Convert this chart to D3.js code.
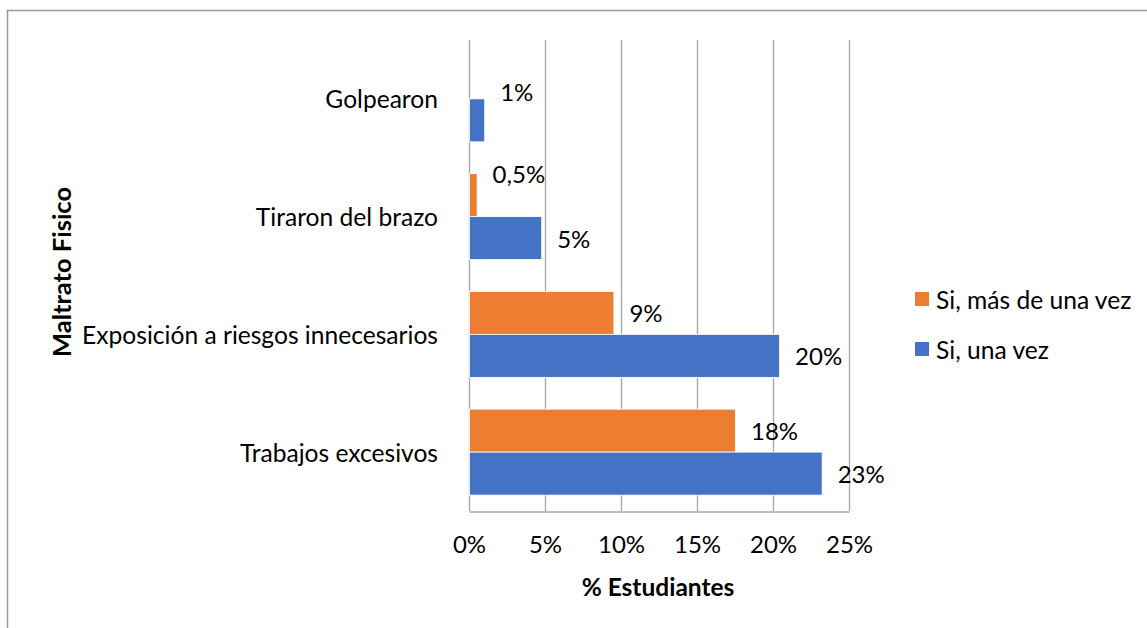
<!DOCTYPE html>
<html>
<head>
<meta charset="utf-8">
<script src="https://cdn.jsdelivr.net/npm/d3@7"></script>
<style>
   body { margin: 0; background: #fff; }
   svg text { font-family: Lato, "Open Sans", sans-serif; fill: #000; }
</style>
</head>
<body>
<div id="chart"></div>
<script>
// Data
const categories = ["Golpearon", "Tiraron del brazo", "Exposición a riesgos innecesarios", "Trabajos excesivos"]
const seriesNames = ["Si, más de una vez", "Si, una vez"]
const masDeUnaVez = [0, 0.5, 9.5, 17.5]
const unaVez = [1, 4.75, 20.4, 23.2]
const masDeUnaVezLabels = ["", "0,5%", "9%", "18%"]
const unaVezLabels = ["1%", "5%", "20%", "23%"]
const xTicks = [0, 5, 10, 15, 20, 25]
const colors = ["#ED7D31", "#4472C4"]

const width = 1147, height = 628
const margin = {top: 40, left: 469, right: 298, bottom: 117}

let svg = d3.select("#chart").append("svg")
   .attr("width", width)
   .attr("height", height)

// Chart border (only top and left edges show in frame)
svg.append("path")
   .attr("d", "M7.5," + height + "V10.5H" + width)
   .attr("fill", "none")
   .attr("stroke", "#999")
   .attr("stroke-width", 1.5)

let x = d3.scaleLinear().domain([0, 25]).range([margin.left, width - margin.right])
let y = d3.scaleBand().domain(categories)
   .range([margin.top, height - margin.bottom])
   .paddingInner(0.27).paddingOuter(0.135)
let sub = d3.scaleBand().domain([0, 1]).range([0, y.bandwidth()])

// Gridlines
svg.append("g").selectAll("line").data(xTicks).enter().append("line")
   .attr("x1", d => x(d) + 0.5).attr("x2", d => x(d) + 0.5)
   .attr("y1", margin.top).attr("y2", height - margin.bottom)
   .attr("stroke", "#a6a6a6")
   .attr("stroke-width", 1.3)

// Bottom axis
let xAxis = svg.append("g")
   .attr("transform", "translate(0," + (height - margin.bottom + 0.5) + ")")
   .call(d3.axisBottom(x).tickValues(xTicks).tickSize(0).tickPadding(24).tickFormat(d => d + "%"))
xAxis.select(".domain").attr("stroke", "#a6a6a6").attr("stroke-width", 1.3)
xAxis.selectAll("text").style("font-size", "24px")

// Rows of series values
let rows = categories.map((c, i) => ({
   cat: c,
   vals: [
      {s: 0, v: masDeUnaVez[i], label: masDeUnaVezLabels[i]},
      {s: 1, v: unaVez[i], label: unaVezLabels[i]}
   ]
}))

// Manual nudges Excel had on a couple of labels
const nudge = {"Golpearon-1": -29, "Tiraron del brazo-0": -22}

let groups = svg.append("g").selectAll("g").data(rows).enter().append("g")
   .attr("transform", d => "translate(0," + y(d.cat) + ")")

groups.selectAll("rect").data(d => d.vals.filter(v => v.v > 0)).enter().append("rect")
   .attr("x", x(0) + 0.5)
   .attr("y", d => sub(d.s))
   .attr("width", d => x(d.v) - x(0))
   .attr("height", sub.bandwidth())
   .attr("fill", d => colors[d.s])
   .attr("stroke", "#fff")
   .attr("stroke-width", 0.8)

groups.selectAll("text.val").data(d => d.vals.filter(v => v.label).map(v => Object.assign({cat: d.cat}, v)))
   .enter().append("text")
   .attr("class", "val")
   .attr("x", d => x(d.v) + 16)
   .attr("y", d => sub(d.s) + sub.bandwidth() / 2 + (nudge[d.cat + "-" + d.s] || 0))
   .attr("dominant-baseline", "central")
   .style("font-size", "24px")
   .text(d => d.label)

// Category labels
svg.append("g").selectAll("text").data(categories).enter().append("text")
   .attr("x", margin.left - 31)
   .attr("y", d => y(d) + y.bandwidth() / 2)
   .attr("text-anchor", "end")
   .attr("dominant-baseline", "central")
   .style("font-size", "24.6px")
   .text(d => d)

// Axis titles
svg.append("text")
   .attr("x", 658).attr("y", 586)
   .attr("text-anchor", "middle")
   .attr("dominant-baseline", "central")
   .style("font-size", "24.5px").style("font-weight", "bold")
   .text("% Estudiantes")

svg.append("text")
   .attr("transform", "translate(61,272) rotate(-90)")
   .attr("text-anchor", "middle")
   .attr("dominant-baseline", "central")
   .style("font-size", "25.5px").style("font-weight", "bold")
   .text("Maltrato Fisico")

// Legend
let legend = svg.append("g").selectAll("g").data(seriesNames).enter().append("g")
   .attr("transform", (d, i) => "translate(915," + (292 + i * 50) + ")")
legend.append("rect")
   .attr("width", 14).attr("height", 14)
   .attr("fill", (d, i) => colors[i])
legend.append("text")
   .attr("x", 21).attr("y", 7)
   .attr("dominant-baseline", "central")
   .style("font-size", "24.6px")
   .text(d => d)
</script>
</body>
</html>
